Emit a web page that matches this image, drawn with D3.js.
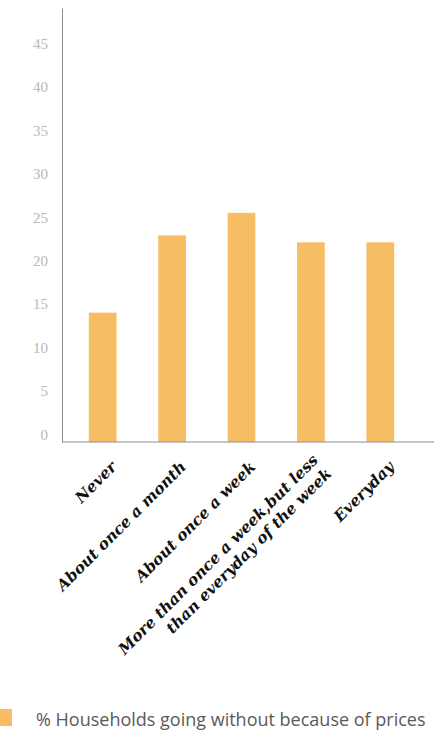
<!DOCTYPE html>
<html>
<head>
<meta charset="utf-8">
<script src="https://cdn.jsdelivr.net/npm/d3@7"></script>
<style>
  html, body { margin: 0; padding: 0; background: #fff; }
  svg { display: block; }
</style>
</head>
<body>
<svg id="chart" width="434" height="730"></svg>
<script>
// Frequency categories (line breaks marked with "\n")
const categories = [
  "Never",
  "About once a month",
  "About once a week",
  "More than once a week,but less\nthan everyday of the week",
  "Everyday"
];
// % of households going without because of prices
const values = [14.9, 23.8, 26.4, 23.0, 23.0];
const yTicks = [0, 5, 10, 15, 20, 25, 30, 35, 40, 45];
const seriesName = "% Households going without because of prices";

const W = 434, H = 730;
const axisX = 62, baseY = 442, topY = 8;

const svg = d3.select("#chart");

const x = d3.scaleBand()
  .domain(categories)
  .range([68, 415])
  .paddingInner(0.6)
  .paddingOuter(0.3);

const y = d3.scaleLinear()
  .domain([0, 50])
  .range([baseY, topY]);

// Bars
svg.append("g")
  .selectAll("rect")
  .data(values)
  .join("rect")
  .attr("x", (d, i) => x(categories[i]))
  .attr("y", d => y(d))
  .attr("width", x.bandwidth())
  .attr("height", d => y(0) - y(d))
  .attr("fill", "#F6BD64");

// Vertical axis with faint numbers
const yAxis = svg.append("g")
  .attr("transform", `translate(${axisX},0)`)
  .call(d3.axisLeft(y).tickValues(yTicks).tickSize(0).tickPadding(14));
yAxis.select(".domain").attr("stroke", "#8a8f96").attr("stroke-width", 1);
yAxis.selectAll("text")
  .attr("dy", "-0.2em")
  .attr("fill", "#b8b8b8")
  .style("font-family", "'Liberation Serif', serif")
  .style("font-size", "15px");

// Baseline
svg.append("line")
  .attr("x1", axisX).attr("x2", W)
  .attr("y1", baseY).attr("y2", baseY)
  .attr("stroke", "#8a8f96")
  .attr("stroke-width", 1.2);

// Rotated category labels
const lh = 19;
const labels = svg.append("g")
  .selectAll("text")
  .data(categories)
  .join("text")
  .attr("transform", d => `translate(${x(d) + x.bandwidth() / 2 + 11},${baseY + 22}) rotate(-45)`)
  .attr("text-anchor", "end")
  .style("font-family", "'DejaVu Serif', serif")
  .style("font-weight", "bold")
  .style("font-style", "italic")
  .style("font-size", "15.5px")
  .attr("fill", "#111");

labels.each(function (d) {
  const lines = d.split("\n");
  const t = d3.select(this);
  lines.forEach((line, i) => {
    t.append("tspan")
      .attr("x", 0)
      .attr("y", (i - (lines.length - 1) / 2) * lh)
      .attr("dy", "0.35em")
      .text(line);
  });
});

// Legend
svg.append("rect")
  .attr("x", -3).attr("y", 709)
  .attr("width", 15).attr("height", 17)
  .attr("fill", "#F6BD64");
svg.append("text")
  .attr("x", 36).attr("y", 726)
  .style("font-family", "'Open Sans', sans-serif")
  .style("font-size", "18px")
  .attr("fill", "#5a5a5a")
  .text(seriesName);
</script>
</body>
</html>
